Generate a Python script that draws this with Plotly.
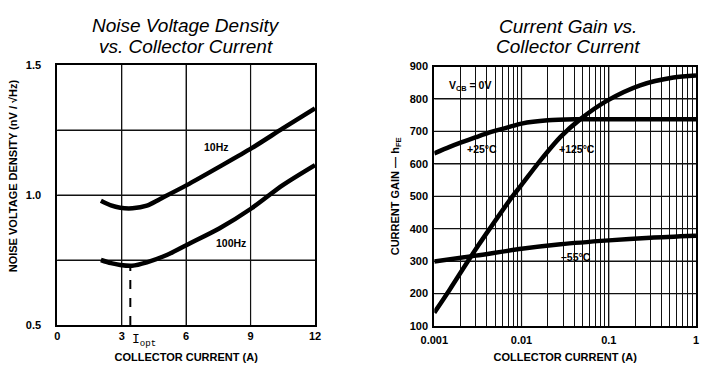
import plotly.graph_objects as go

# ---------- Left chart: Noise voltage density ----------
ic_10hz = [2.03, 2.5, 2.93, 3.5, 4.17, 4.79, 6.03, 7.56, 9.05, 10.5, 12.0]
en_10hz = [0.978, 0.960, 0.951, 0.949, 0.959, 0.985, 1.038, 1.109, 1.180, 1.256, 1.333]
ic_100hz = [2.03, 2.5, 2.93, 3.48, 4.17, 5.1, 6.03, 7.56, 9.05, 10.5, 12.0]
en_100hz = [0.750, 0.738, 0.731, 0.728, 0.741, 0.769, 0.808, 0.872, 0.949, 1.038, 1.115]
iopt_x = [3.4, 3.4]
iopt_y = [0.5, 0.728]
left_xticks = [0, 3, 6, 9, 12]
left_xticktext = ["0", "3", "6", "9", "12"]
left_xgrid = [3, 6, 9]
left_yticks = [0.5, 1.0, 1.5]
left_yticktext = ["0.5", "1.0", "1.5"]
left_ygrid = [0.75, 1.0, 1.25]

# ---------- Right chart: Current gain ----------
ic_25 = [0.001, 0.0015, 0.002, 0.003, 0.0046, 0.008, 0.01, 0.02, 0.04, 0.1, 0.3, 1.0]
hfe_25 = [632, 652, 665, 682, 699, 717, 724, 734, 737, 737, 737, 737]
ic_125 = [0.001, 0.0015, 0.0027, 0.004, 0.0078, 0.01, 0.0163, 0.028, 0.0469, 0.0948, 0.229, 0.551, 1.0]
hfe_125 = [141, 212, 319, 387, 498, 535, 609, 683, 737, 794, 842, 866, 872]
ic_m55 = [0.001, 0.003, 0.01, 0.028, 0.1, 0.3, 1.0]
hfe_m55 = [299, 317, 338, 352, 364, 372, 378]
right_xticks = [0.001, 0.01, 0.1, 1.0]
right_xticktext = ["0.001", "0.01", "0.1", "1"]
right_xgrid = [d * m for d in (0.001, 0.01, 0.1) for m in range(1, 10)][1:]
right_xdecades = [0.01, 0.1]
right_yticks = [100, 200, 300, 400, 500, 600, 700, 800, 900]
right_ygrid = [200, 300, 400, 500, 600, 700, 800]
right_yrange = [100, 900]

W, H = 704, 378   # page body adds an 8 px margin around the figure
FONT = "Liberation Sans"
GRID = "#111"
line_style = dict(color="black", width=4.5, shape="spline", smoothing=0.8)

fig = go.Figure()
# decade grid lines of the log axis (major positions are skipped by the minor grid)
for xd in right_xdecades:
    fig.add_trace(go.Scatter(x=[xd, xd], y=right_yrange, mode="lines",
                             line=dict(color=GRID, width=1.2), hoverinfo="skip",
                             xaxis="x2", yaxis="y2"))
fig.add_trace(go.Scatter(x=ic_10hz, y=en_10hz, mode="lines", line=line_style, name="10Hz",
                         xaxis="x", yaxis="y"))
fig.add_trace(go.Scatter(x=ic_100hz, y=en_100hz, mode="lines", line=line_style, name="100Hz",
                         xaxis="x", yaxis="y"))
fig.add_trace(go.Scatter(x=iopt_x, y=iopt_y, mode="lines",
                         line=dict(color="black", width=2, dash="dash"), name="Iopt",
                         xaxis="x", yaxis="y"))
fig.add_trace(go.Scatter(x=ic_25, y=hfe_25, mode="lines", line=line_style, name="+25°C",
                         xaxis="x2", yaxis="y2"))
fig.add_trace(go.Scatter(x=ic_125, y=hfe_125, mode="lines", line=line_style, name="+125°C",
                         xaxis="x2", yaxis="y2"))
fig.add_trace(go.Scatter(x=ic_m55, y=hfe_m55, mode="lines", line=line_style, name="-55°C",
                         xaxis="x2", yaxis="y2"))

tickf = dict(family=FONT, size=11, color="black", weight="bold")
titlef = dict(family=FONT, size=11, color="black", weight="bold")


def grid(vals):
    return dict(tickvals=vals, showgrid=True, gridcolor=GRID, gridwidth=1.2, ticks="")


axis_common = dict(showline=True, linecolor="black", linewidth=2, mirror=True,
                   showgrid=False, zeroline=False,
                   ticks="", tickfont=tickf, fixedrange=True, automargin=False)

fig.update_layout(
    width=W, height=H,
    margin=dict(l=0, r=0, t=0, b=0, autoexpand=False),
    paper_bgcolor="white", plot_bgcolor="white",
    showlegend=False,
    xaxis=dict(axis_common, domain=[49.3 / W, 307 / W], range=[0, 12],
               tickvals=left_xticks, ticktext=left_xticktext, ticklabelstandoff=0,
               minor=grid(left_xgrid),
               title=dict(text="COLLECTOR CURRENT (A)", font=titlef, standoff=12),
               anchor="y"),
    yaxis=dict(axis_common, domain=[1 - 317 / H, 1 - 57 / H], range=[0.5, 1.5],
               tickvals=left_yticks, ticktext=left_yticktext, ticklabelstandoff=12,
               minor=grid(left_ygrid),
               anchor="x"),
    xaxis2=dict(axis_common, domain=[426.3 / W, 688 / W], type="log", range=[-3, 0],
                tickvals=right_xticks, ticktext=right_xticktext, ticklabelstandoff=3,
                minor=grid(right_xgrid),
                title=dict(text="COLLECTOR CURRENT (A)", font=titlef, standoff=8),
                anchor="y2"),
    yaxis2=dict(axis_common, domain=[1 - 318 / H, 1 - 58.5 / H], range=right_yrange,
                tickvals=right_yticks, ticklabelstandoff=2,
                minor=grid(right_ygrid),
                title=dict(text="CURRENT GAIN — h<sub>FE</sub>", font=titlef, standoff=8),
                anchor="x2"),
)

# left-chart grid at the labelled positions too
for gx in left_xgrid:
    fig.add_shape(type="line", xref="x", yref="y domain", x0=gx, x1=gx, y0=0, y1=1,
                  line=dict(color=GRID, width=1.2), layer="below")
for gy in left_ygrid:
    fig.add_shape(type="line", xref="x domain", yref="y", x0=0, x1=1, y0=gy, y1=gy,
                  line=dict(color=GRID, width=1.2), layer="below")
for gy in right_ygrid:
    fig.add_shape(type="line", xref="x2 domain", yref="y2", x0=0, x1=1, y0=gy, y1=gy,
                  line=dict(color=GRID, width=1.2), layer="below")

lab = dict(family=FONT, size=10.5, color="black", weight="bold")
ttl = dict(family=FONT, size=19, color="black")
annos = [
    dict(x=5.3 / W, y=1 - 168 / H, xref="paper", yref="paper", textangle=-90,
         text="NOISE VOLTAGE DENSITY (nV / √Hz)", font=titlef),
    dict(x=7.41, y=1.183, xref="x", yref="y", text="10Hz", font=lab),
    dict(x=8.11, y=0.814, xref="x", yref="y", text="100Hz", font=lab),
    dict(x=3.4, y=1 - 322 / H, xref="x", yref="paper", text="I<sub>opt</sub>",
         xanchor="left", yanchor="top", font=dict(family="Liberation Mono", size=13, color="black")),
    dict(x=-2.59, y=839, xref="x2", yref="y2", text="V<sub>CB</sub> = 0V", font=lab),
    dict(x=-2.45, y=647, xref="x2", yref="y2", text="+25°C", font=lab),
    dict(x=-1.367, y=647, xref="x2", yref="y2", text="+125°C", font=lab),
    dict(x=-1.376, y=314, xref="x2", yref="y2", text="–55°C", font=lab),
    dict(x=178 / W, y=1 - 17 / H, xref="paper", yref="paper",
         text="<i>Noise Voltage Density</i>", font=ttl),
    dict(x=178 / W, y=1 - 39 / H, xref="paper", yref="paper",
         text="<i>vs. Collector Current</i>", font=ttl),
    dict(x=560 / W, y=1 - 18 / H, xref="paper", yref="paper",
         text="<i>Current Gain vs.</i>", font=ttl),
    dict(x=560 / W, y=1 - 39 / H, xref="paper", yref="paper",
         text="<i>Collector Current</i>", font=ttl),
]
for a in annos:
    a.setdefault("showarrow", False)
    a.setdefault("xanchor", "center")
    a.setdefault("yanchor", "middle")
    fig.add_annotation(**a)

fig.write_html("out.html")
